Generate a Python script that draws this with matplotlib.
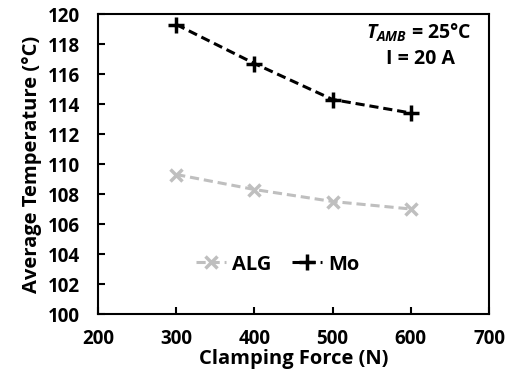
import matplotlib
matplotlib.use("Agg")
import matplotlib.pyplot as plt

# ===============================
# DATA
# ===============================
force = [300, 400, 500, 600]
alg_temp = [109.3, 108.3, 107.5, 107.0]
mo_temp = [119.3, 116.7, 114.3, 113.4]

plt.rcParams["font.family"] = ["Open Sans", "DejaVu Sans"]
plt.rcParams["font.weight"] = "bold"
plt.rcParams["mathtext.fontset"] = "custom"
plt.rcParams["mathtext.it"] = "Open Sans:italic:bold"
plt.rcParams["mathtext.rm"] = "Open Sans:bold"

# ===============================
# GRAPH
# ===============================
fig = plt.figure(figsize=(5.14, 3.87), dpi=100)
ax = fig.add_axes([98 / 514, 1 - 314 / 387, (489 - 98) / 514, (314 - 14) / 387])

ax.plot(force, alg_temp, linestyle="--", color="#bfbfbf", linewidth=2.2,
        marker="x", markersize=9, markeredgewidth=2.5, label="ALG", dashes=(3, 1.6))
ax.plot(force, mo_temp, linestyle="--", color="black", linewidth=2.2,
        marker="+", markersize=12, markeredgewidth=2.5, label="Mo", dashes=(3, 1.6))

ax.set_xlim(200, 700)
ax.set_ylim(100, 120)
ax.set_xticks(range(200, 701, 100))
ax.set_yticks(range(100, 121, 2))

for side in ["left", "right", "top", "bottom"]:
    ax.spines[side].set_linewidth(1.5)

ax.tick_params(axis="both", direction="in", length=5, width=1.5, labelsize=13.5)
ax.tick_params(axis="x", pad=11)
ax.tick_params(axis="y", pad=13)

ax.set_xlabel("Clamping Force (N)", fontsize=14.5, fontweight="bold", labelpad=0)
ax.set_ylabel("Average Temperature (°C)", fontsize=14.5, fontweight="bold", labelpad=4)

ax.text(0.955, 0.975, "$T_{AMB}$ = 25°C", transform=ax.transAxes,
        ha="right", va="top", fontsize=14, fontweight="bold")
ax.text(0.824, 0.885, "I = 20 A", transform=ax.transAxes,
        ha="center", va="top", fontsize=14, fontweight="bold")

ax.legend(loc="center", bbox_to_anchor=(0.46, 0.165), ncol=2, frameon=False,
          fontsize=14.5, handlelength=1.5, handletextpad=0.3, columnspacing=1.0)

plt.savefig("out.png", dpi=100)
